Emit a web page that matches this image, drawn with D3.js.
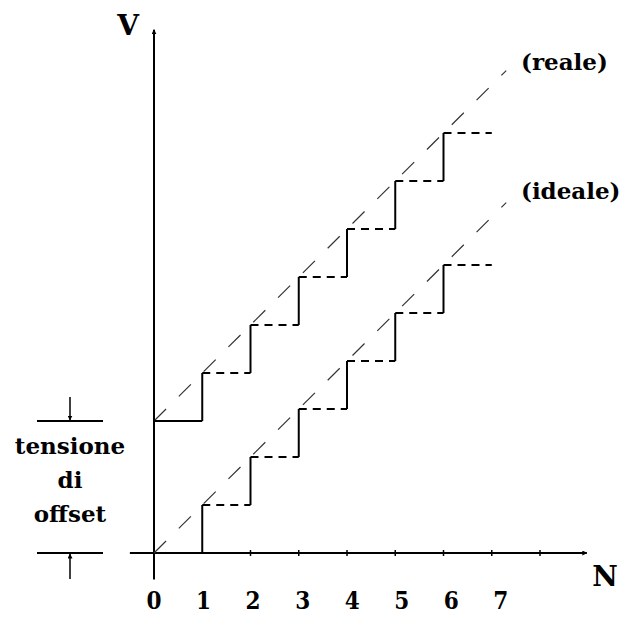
<!DOCTYPE html>
<html>
<head>
<meta charset="utf-8">
<script src="https://cdn.jsdelivr.net/npm/d3@7"></script>
<style>
  body { margin: 0; background: #fff; }
</style>
</head>
<body>
<div id="chart"></div>
<script>
// codici N e relative tensioni (in LSB)
const codes = [0, 1, 2, 3, 4, 5, 6];
const tickLabels = ["0", "1", "2", "3", "4", "5", "6", "7"];
const tickMarks = [2, 3, 4, 5, 6, 7, 8];
const idealLevels = [0, 1, 2, 3, 4, 5, 6];
const offsetLSB = 2.75;
const realLevels = idealLevels.map(d => d + offsetLSB);
const diagEnd = 7.3;

var width = 624, height = 617;
var font = "'DejaVu Serif', serif";
var fontCond = "'DejaVu Serif Condensed', 'DejaVu Serif', serif";

var svg = d3.select("#chart").append("svg")
    .attr("width", width)
    .attr("height", height);

var x = d3.scaleLinear().domain([0, 8]).range([154, 540]);
var y = d3.scaleLinear().domain([0, 10]).range([553, 73]);

svg.append("defs").append("marker")
    .attr("id", "arr")
    .attr("viewBox", "0 0 10 10")
    .attr("refX", 9).attr("refY", 5)
    .attr("markerWidth", 5).attr("markerHeight", 5)
    .attr("markerUnits", "userSpaceOnUse")
    .attr("orient", "auto")
    .append("path").attr("d", "M0,0 L10,5 L0,10 z").attr("fill", "#000");

function label(tx, ty, t, size, anchor, fam) {
    return svg.append("text")
        .attr("x", tx).attr("y", ty)
        .attr("font-family", fam || font)
        .attr("font-weight", "bold")
        .attr("font-size", size)
        .attr("text-anchor", anchor || "start")
        .text(t);
}

// assi
svg.append("line")
    .attr("x1", x(-0.5)).attr("x2", x(8.97))
    .attr("y1", y(0)).attr("y2", y(0))
    .attr("stroke", "#000").attr("stroke-width", 2)
    .attr("marker-end", "url(#arr)");
svg.append("line")
    .attr("x1", x(0)).attr("x2", x(0))
    .attr("y1", y(-0.55)).attr("y2", y(10.9))
    .attr("stroke", "#000").attr("stroke-width", 2)
    .attr("marker-end", "url(#arr)");

svg.selectAll(".tick").data(tickMarks).enter().append("line")
    .attr("x1", d => x(d)).attr("x2", d => x(d))
    .attr("y1", y(0) - 3).attr("y2", y(0) + 3)
    .attr("stroke", "#000").attr("stroke-width", 1.5);

tickLabels.forEach((t, i) => label(x(i) + i * 1.3, 609, t, 24, "middle", fontCond));

label(128, 35, "V", 28, "middle");
label(605, 586, "N", 28, "middle");

// rette diagonali tratteggiate
function diag(base) {
    svg.append("line")
        .attr("x1", x(0)).attr("y1", y(base))
        .attr("x2", x(diagEnd)).attr("y2", y(base + diagEnd))
        .attr("stroke", "#333").attr("stroke-width", 1.2)
        .attr("stroke-dasharray", "17,18");
}
diag(0);
diag(offsetLSB);

// gradini
function staircase(levels, base) {
    var g = svg.append("g");
    // verticali pieni
    g.selectAll(".v").data(codes.slice(1)).enter().append("line")
        .attr("x1", d => x(d)).attr("x2", d => x(d))
        .attr("y1", d => y(levels[d - 1])).attr("y2", d => y(levels[d]))
        .attr("stroke", "#000").attr("stroke-width", 2);
    // orizzontali tratteggiati
    g.selectAll(".h").data(codes.slice(1)).enter().append("line")
        .attr("x1", d => x(d)).attr("x2", d => x(d + 1))
        .attr("y1", d => y(levels[d])).attr("y2", d => y(levels[d]))
        .attr("stroke", "#000").attr("stroke-width", 2)
        .attr("stroke-dasharray", "8,6");
    if (base > 0) {
        g.append("line")
            .attr("x1", x(0)).attr("x2", x(1))
            .attr("y1", y(levels[0])).attr("y2", y(levels[0]))
            .attr("stroke", "#000").attr("stroke-width", 2);
    }
}
staircase(idealLevels, 0);
staircase(realLevels, offsetLSB);

label(521, 70, "(reale)", 23);
label(521, 199, "(ideale)", 23);

// annotazione tensione di offset
var ax = 70;
[offsetLSB, 0].forEach(v => {
    svg.append("line")
        .attr("x1", 37).attr("x2", 103)
        .attr("y1", y(v)).attr("y2", y(v))
        .attr("stroke", "#000").attr("stroke-width", 2);
});
svg.append("line").attr("x1", ax).attr("x2", ax)
    .attr("y1", y(offsetLSB) - 24).attr("y2", y(offsetLSB) - 1)
    .attr("stroke", "#000").attr("stroke-width", 1.5)
    .attr("marker-end", "url(#arr)");
svg.append("line").attr("x1", ax).attr("x2", ax)
    .attr("y1", y(0) + 26).attr("y2", y(0) + 1)
    .attr("stroke", "#000").attr("stroke-width", 1.5)
    .attr("marker-end", "url(#arr)");

["tensione", "di", "offset"].forEach((t, i) => label(ax, 454 + i * 34, t, 23, "middle"));
</script>
</body>
</html>
